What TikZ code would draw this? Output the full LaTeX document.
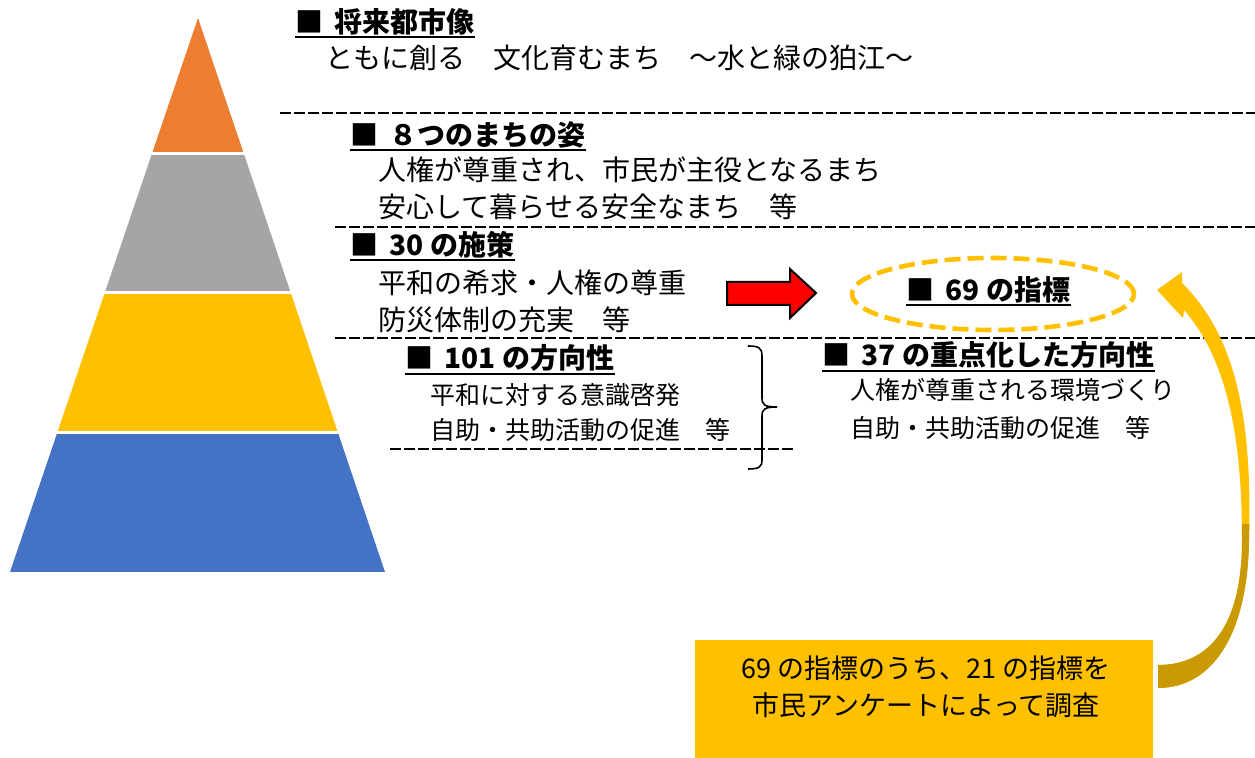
\documentclass[tikz,border=0pt]{standalone}
\usepackage{fontspec}
\setmainfont{Noto Sans CJK JP}
\usetikzlibrary{shapes.geometric}
\definecolor{pyOrange}{HTML}{ED7D31}
\definecolor{pyGray}{HTML}{A5A5A5}
\definecolor{pyGold}{HTML}{FFC000}
\definecolor{pyBlue}{HTML}{4472C4}
\definecolor{darkGold}{HTML}{C99A06}
\begin{document}
\begin{tikzpicture}[x=0.5pt,y=-0.5pt,
  head/.style={font=\fontsize{14pt}{14pt}\selectfont\bfseries, anchor=west, inner sep=0pt},
  body/.style={font=\fontsize{14pt}{14pt}\selectfont, anchor=west, inner sep=0pt},
  small/.style={font=\fontsize{12.5pt}{12.5pt}\selectfont, anchor=west, inner sep=0pt},
  notetxt/.style={font=\fontsize{13.5pt}{13.5pt}\selectfont, inner sep=0pt},
  uline/.style={line width=1pt},
  sepline/.style={dash pattern=on 5.5pt off 1.5pt, line width=1.1pt}]
\useasboundingbox (0,0) rectangle (1255,758);

% pyramid
\begin{scope}
  \clip (198,18) -- (385,572) -- (10,572) -- cycle;
  \fill[pyOrange] (0,0) rectangle (400,152);
  \fill[pyGray] (0,155) rectangle (400,291);
  \fill[pyGold] (0,294) rectangle (400,431);
  \fill[pyBlue] (0,434) rectangle (400,572);
\end{scope}

% separators
\draw[sepline] (280,113) -- (1255,113);
\draw[sepline] (335,227) -- (1255,227);
\draw[sepline] (335,338) -- (1255,338);
\draw[sepline] (390,449) -- (796,449);

% texts
\node[head] (h1) at (295,22) {■\hspace{0.4em}将来都市像};
\node[body] (t1) at (325,58) {ともに創る　文化育むまち　～水と緑の狛江～};

\node[head] (h2) at (350,135) {■\hspace{0.4em}８つのまちの姿};
\node[body] (t2a) at (378,170) {人権が尊重され、市民が主役となるまち};
\node[body] (t2b) at (378,207) {安心して暮らせる安全なまち　等};

\node[head] (h3) at (350,245) {■\hspace{0.4em}30 の施策};
\node[body] (t3a) at (378,283) {平和の希求・人権の尊重};
\node[body] (t3b) at (378,320) {防災体制の充実　等};

\node[ellipse, draw=pyGold, line width=2.3pt, dash pattern=on 8pt off 3.5pt,
      minimum width=141pt, minimum height=36pt, inner sep=0pt] (ell) at (993,294) {};
\node[head] (h4) at (906,290) {■\hspace{0.4em}69 の指標};

\node[head] (h5) at (405,358) {■\hspace{0.4em}101 の方向性};
\node[small] (t5a) at (430,395) {平和に対する意識啓発};
\node[small] (t5b) at (430,430) {自助・共助活動の促進　等};

\node[head] (h6) at (822,355) {■\hspace{0.4em}37 の重点化した方向性};
\node[small] (t6a) at (850,390) {人権が尊重される環境づくり};
\node[small] (t6b) at (850,428) {自助・共助活動の促進　等};

\foreach \h in {h1,h2,h3,h4,h5,h6}
  \draw[uline] ([yshift=-0.8pt]\h.south west) -- ([yshift=-0.8pt]\h.south east);

% brace
\draw[line width=0.8pt] (748,346) .. controls (759,346) and (762,348) .. (762,356)
  -- (762,398) .. controls (762,405) and (765,407) .. (777,407)
  .. controls (765,407) and (762,409) .. (762,416)
  -- (762,460) .. controls (762,467) and (759,469) .. (748,469);

% red arrow
\draw[line width=1pt, fill=red, line join=miter]
  (727,282) -- (790,282) -- (790,269) -- (816,293) -- (790,318) -- (790,305) -- (727,305) -- cycle;

% note box
\node[fill=pyGold, minimum width=229pt, minimum height=59pt, inner sep=0pt] (note) at (924,699) {};
\node[notetxt] (n1) at (926,668) {69 の指標のうち、21 の指標を};
\node[notetxt] (n2) at (926,705) {市民アンケートによって調査};

% curved arrow
\def\carrow{(1158,688) .. controls (1215,688) and (1248,630) .. (1249,540)
  .. controls (1252,430) and (1240,340) .. (1182,283)
  -- (1182,272) -- (1157,290) -- (1183,318) -- (1184,310)
  .. controls (1228,360) and (1242,440) .. (1242,540)
  .. controls (1242,625) and (1210,665) .. (1158,665) -- cycle}
\fill[pyGold] \carrow;
\begin{scope}
  \clip (1100,525) rectangle (1255,700);
  \fill[darkGold] \carrow;
\end{scope}
\end{tikzpicture}
\end{document}
